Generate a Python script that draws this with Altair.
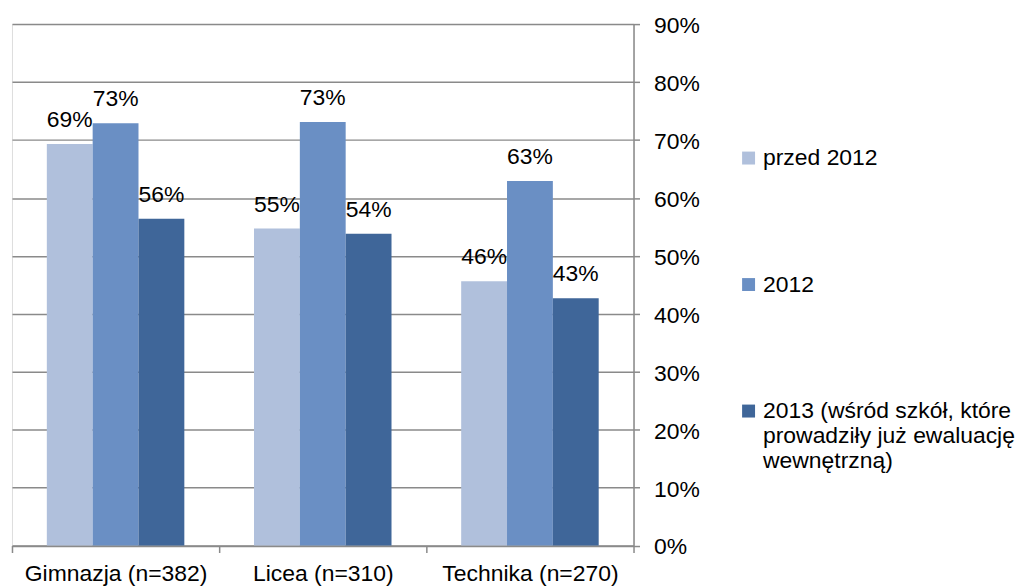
import altair as alt
import pandas as pd

categories = ["Gimnazja (n=382)", "Licea (n=310)", "Technika (n=270)"]
series = ["przed 2012", "2012", "2013 (wśród szkół, które|prowadziły już ewaluację|wewnętrzną)"]
przed_2012 = [0.693, 0.547, 0.456]
rok_2012 = [0.729, 0.731, 0.629]
rok_2013 = [0.564, 0.538, 0.427]
colors = ["#B0C0DC", "#6A8FC4", "#3F6699"]
y_ticks = [0.0, 0.1, 0.2, 0.3, 0.4, 0.5, 0.6, 0.7, 0.8, 0.9]

rows = []
for s, vals in zip(series, [przed_2012, rok_2012, rok_2013]):
    for c, v in zip(categories, vals):
        rows.append({"kategoria": c, "seria": s, "wartosc": v})
df = pd.DataFrame(rows)

FONT = "Liberation Sans"
GRAY = "#8a8a8a"
FS = 23

base = alt.Chart(df).encode(
    x=alt.X(
        "kategoria:N",
        sort=categories,
        scale=alt.Scale(paddingInner=0, paddingOuter=0),
        axis=alt.Axis(
            title=None, labelAngle=0, tickBand="extent", tickSize=7,
            tickColor=GRAY, tickWidth=1.5, domainColor=GRAY, domainWidth=1.5,
            labelFontSize=FS, labelFont=FONT, labelColor="#000000",
            labelPadding=10, grid=False, labelLimit=400,
        ),
    ),
    xOffset=alt.XOffset(
        "seria:N", sort=series,
        scale=alt.Scale(paddingInner=0, paddingOuter=0.76),
    ),
    y=alt.Y(
        "wartosc:Q",
        scale=alt.Scale(domain=[0, 0.9], nice=False),
        axis=alt.Axis(
            title=None, orient="right", format=".0%", values=y_ticks,
            tickSize=6, tickColor=GRAY, tickWidth=1.5, domainColor=GRAY,
            domainWidth=1.5, grid=True, gridColor=GRAY, gridWidth=1.5,
            labelFontSize=FS, labelFont=FONT, labelColor="#000000",
            labelPadding=14, labelOffset=1.5,
        ),
    ),
)

bars = base.mark_bar().encode(
    color=alt.Color(
        "seria:N",
        sort=series,
        scale=alt.Scale(domain=series, range=colors),
        legend=alt.Legend(
            title=None, orient="none", legendX=728, legendY=123,
            symbolType="square", symbolSize=169, symbolStrokeWidth=0,
            labelFontSize=FS, labelFont=FONT, labelColor="#000000",
            labelLimit=400, rowPadding=103, padding=0, labelOffset=3,
            labelExpr="split(datum.label, '|')",
        ),
    )
)

labels = base.mark_text(
    baseline="alphabetic", dy=-17, fontSize=FS, font=FONT, color="#000000"
).encode(text=alt.Text("wartosc:Q", format=".0%"))

chart = (
    alt.layer(bars, labels)
    .properties(
        width=624,
        height=523.5,
        autosize=alt.AutoSizeParams(type="none"),
        padding={"left": 4, "top": 15, "right": 388, "bottom": 41.5},
    )
    .configure_view(stroke=None)
    .configure(background="white")
)

chart.save("out.html", embed_options={"renderer": "svg", "actions": False})
